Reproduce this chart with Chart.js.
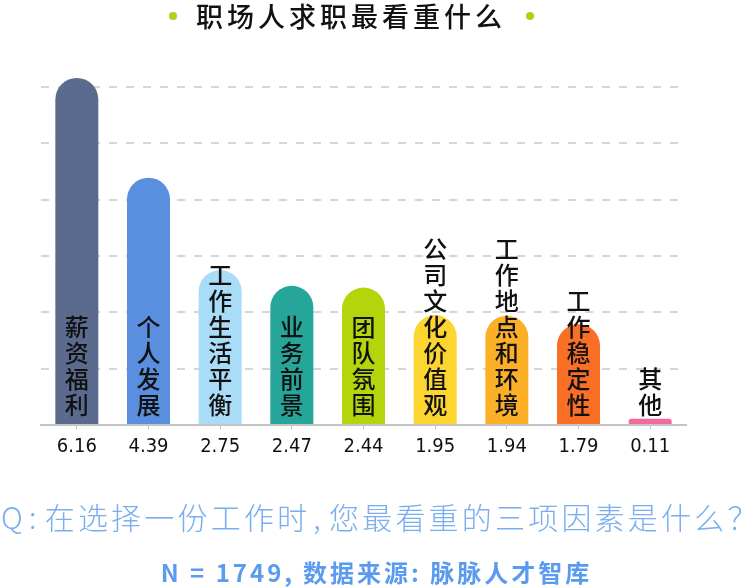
<!DOCTYPE html>
<html>
<head>
<meta charset="utf-8">
<script src="https://cdn.jsdelivr.net/npm/chart.js@4"></script>
<style>
  body { margin: 0; background: #fff; }
  #wrap { position: relative; width: 749px; height: 587px; overflow: hidden; font-family: "Noto Sans CJK SC", sans-serif; }
  #myChart { position: absolute; left: 0; top: 0; }
  .title { position: absolute; left: 0; width: 702px; top: -4px; text-align: center; font-size: 27px; font-weight: 500; letter-spacing: 4px; color: #111; }
  .dot { position: absolute; top: 12px; width: 8px; height: 8px; border-radius: 50%; background: #a9d41a; }
  .q { position: absolute; left: 1px; top: 494px; font-size: 30px; font-weight: 300; color: #7aaef0; white-space: nowrap; letter-spacing: 3.2px; }
  .q .p { margin: 0 5px 0 3px; }
  .src { position: absolute; left: 0; width: 753px; top: 554px; text-align: center; font-size: 24px; font-weight: 700; color: #5b9bef; white-space: nowrap; letter-spacing: 3px; }
  .src .p { margin-right: 8px; }
</style>
</head>
<body>
<div id="wrap">
  <canvas id="myChart" width="749" height="587"></canvas>
  <div class="dot" style="left:169px"></div>
  <div class="title">职场人求职最看重什么</div>
  <div class="dot" style="left:526px"></div>
  <div class="q">Q<span class="p">:</span>在选择一份工作时<span class="p">,</span>您最看重的三项因素是什么？</div>
  <div class="src">N = 1749<span class="p">,</span>数据来源: 脉脉人才智库</div>
</div>
<script>
// categories (drawn inside bars) and values (shown under the axis)
var categories = ["薪资福利", "个人发展", "工作生活平衡", "业务前景", "团队氛围", "公司文化价值观", "工作地点和环境", "工作稳定性", "其他"];
var values = [6.16, 4.39, 2.75, 2.47, 2.44, 1.95, 1.94, 1.79, 0.11];
var valueLabels = ["6.16", "4.39", "2.75", "2.47", "2.44", "1.95", "1.94", "1.79", "0.11"];
var barColors = ["#5a6b8e", "#5a8fe0", "#a9dcf7", "#26a69a", "#b4d50c", "#fdd530", "#fbb028", "#f96f26", "#f06a9e"];

// vertical labels inside the bars
var barText = {
  id: "barText",
  afterDatasetsDraw: function(chart) {
    var ctx = chart.ctx;
    var meta = chart.getDatasetMeta(0);
    var bottom = chart.scales.y.bottom;
    ctx.save();
    ctx.font = "500 24px 'Noto Sans CJK SC'";
    ctx.fillStyle = "#111";
    ctx.textAlign = "center";
    ctx.textBaseline = "middle";
    meta.data.forEach(function(bar, i) {
      var chars = categories[i].split("");
      var n = chars.length;
      chars.forEach(function(c, j) {
        ctx.fillText(c, bar.x, bottom - 20 - (n - 1 - j) * 26);
      });
    });
    ctx.restore();
  }
};

new Chart("myChart", {
  type: "bar",
  data: {
    labels: valueLabels,
    datasets: [{
      data: values,
      backgroundColor: barColors,
      borderRadius: 22,
      borderSkipped: "bottom",
      barPercentage: 0.6,
      categoryPercentage: 1
    }]
  },
  options: {
    responsive: false,
    animation: false,
    layout: { padding: { left: 41, right: 63, top: 70, bottom: 0 } },
    plugins: {
      legend: { display: false },
      tooltip: { enabled: false }
    },
    scales: {
      x: {
        afterFit: function(s) { s.height = 162; },
        grid: { display: true, drawOnChartArea: false, offset: false, tickLength: 4, color: "#c4c4c4", lineWidth: 1 },
        border: { display: true, color: "#c4c4c4", width: 2 },
        ticks: { color: "#111", padding: 6, font: { size: 20, family: "'Liberation Sans Narrow', 'DejaVu Sans Condensed', sans-serif" } }
      },
      y: {
        min: 0,
        max: 6.3,
        afterFit: function(s) { s.width = 0; },
        ticks: { display: false, stepSize: 1 },
        border: { display: false, dash: [8, 9] },
        grid: {
          drawTicks: false,
          lineWidth: 2,
          color: function(c) {
            var v = c.tick && c.tick.value;
            return (Number.isInteger(v) && v > 0) ? "#d6d6d6" : "rgba(0,0,0,0)";
          }
        }
      }
    }
  },
  plugins: [barText]
});
</script>
</body>
</html>
